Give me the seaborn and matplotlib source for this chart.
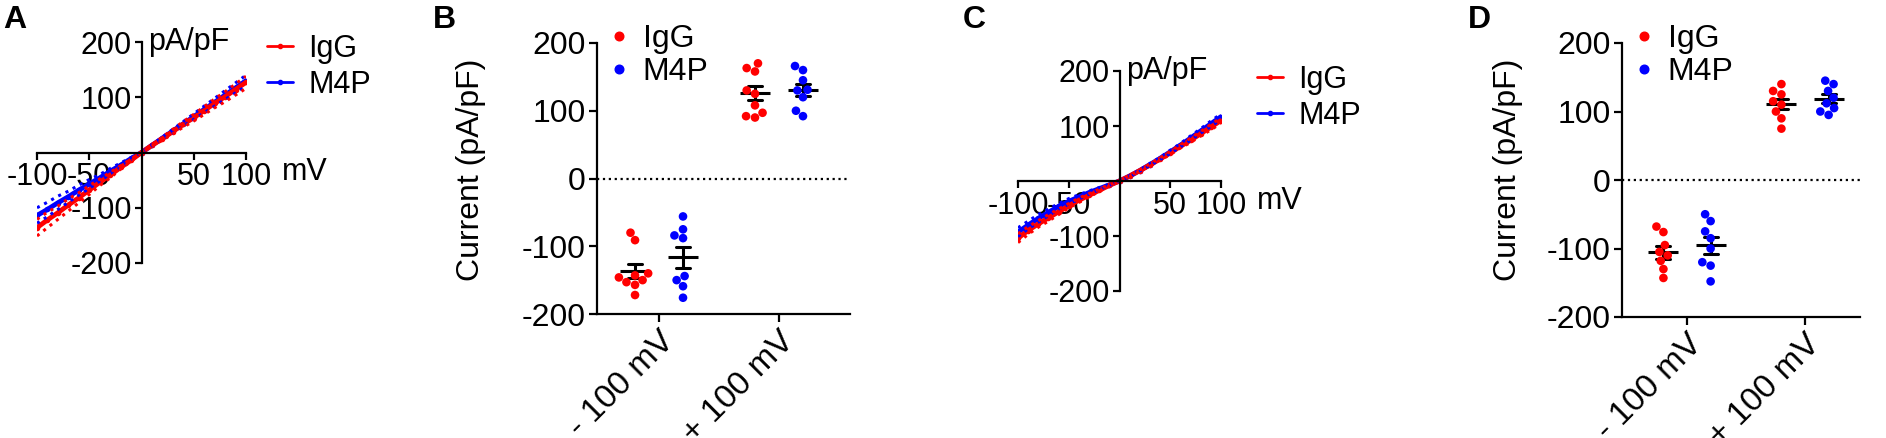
import numpy as np
import pandas as pd
import matplotlib
matplotlib.use('Agg')
import matplotlib.pyplot as plt
import seaborn as sns
from matplotlib.lines import Line2D

sns.set_theme(style="ticks", rc={'axes.edgecolor': 'black', 'xtick.color': 'black',
                                 'ytick.color': 'black', 'text.color': 'black',
                                 'axes.labelcolor': 'black'})
plt.rcParams['font.family'] = ['Liberation Sans', 'DejaVu Sans']
plt.rcParams['axes.unicode_minus'] = False

RED = '#ff0000'
BLUE = '#0000ff'
groups = ['IgG', 'M4P']
conds = ['- 100 mV', '+ 100 mV']

# I-V curves, current density (pA/pF) vs voltage (mV)
voltage = [-100, -90, -80, -70, -60, -50, -40, -30, -20, -10, 0,
           10, 20, 30, 40, 50, 60, 70, 80, 90, 100]

a_igg = [-136, -122, -109, -95, -82, -68, -54, -41, -27, -14, 0, 13, 25, 38, 51, 63, 76, 89, 101, 114, 127]
a_igg_sem = [15, 14, 12, 11, 9, 8, 6, 5, 3, 2, 0, 1, 3, 4, 5, 6, 7, 8, 9, 10, 11]
a_m4p = [-114, -103, -91, -80, -68, -57, -46, -34, -23, -11, 0, 13, 26, 39, 52, 65, 78, 91, 104, 117, 130]
a_m4p_sem = [14, 13, 12, 10, 9, 8, 6, 5, 4, 2, 0, 1, 2, 3, 4, 5, 6, 7, 8, 9, 10]

c_igg = [-104, -90, -78, -67, -56, -45, -35, -26, -17, -8, 0, 9, 19, 29, 40, 51, 63, 74, 86, 98, 110]
c_igg_sem = [8, 7, 6, 6, 5, 4, 4, 3, 2, 1, 0, 1, 1, 2, 2, 3, 3, 4, 4, 5, 5]
c_m4p = [-93, -80, -68, -57, -46, -37, -29, -21, -14, -7, 0, 9, 19, 30, 41, 53, 65, 78, 91, 104, 117]
c_m4p_sem = [8, 7, 7, 6, 5, 5, 4, 3, 2, 1, 0, 1, 1, 2, 2, 3, 3, 4, 4, 5, 5]

# single cells at -100 / +100 mV
b_igg_neg = [-80, -91, -140, -143, -146, -150, -153, -157, -172]
b_igg_pos = [170, 163, 158, 130, 125, 108, 97, 92, 90]
b_m4p_neg = [-56, -75, -84, -88, -144, -150, -159, -176]
b_m4p_pos = [166, 160, 145, 131, 130, 120, 100, 92]

d_igg_neg = [-68, -76, -95, -105, -110, -118, -130, -143]
d_igg_pos = [140, 130, 125, 115, 110, 100, 90, 75]
d_m4p_neg = [-50, -60, -75, -85, -100, -120, -125, -148]
d_m4p_pos = [145, 140, 130, 120, 112, 105, 100, 95]

W, H = 1886, 438
fig = plt.figure(figsize=(W / 100, H / 100), dpi=100)


def px_axes(left, right, top, bottom):
    return fig.add_axes([left / W, 1 - bottom / H, (right - left) / W, (bottom - top) / H])


def iv_panel(ax, igg, igg_sem, m4p, m4p_sem, fs, leg_xy):
    n = len(voltage)
    df = pd.DataFrame({'mV': voltage * 2, 'I': igg + m4p,
                       'group': ['IgG'] * n + ['M4P'] * n})
    sns.lineplot(data=df, x='mV', y='I', hue='group', hue_order=['M4P', 'IgG'],
                 palette={'IgG': RED, 'M4P': BLUE}, marker='o', markersize=4,
                 markeredgewidth=0, linewidth=3.5, errorbar=None, legend=False, ax=ax)
    for mean, sem, col in [(m4p, m4p_sem, BLUE), (igg, igg_sem, RED)]:
        m, s = np.array(mean), np.array(sem)
        ax.plot(voltage, m + s, ls=':', color=col, lw=2.2)
        ax.plot(voltage, m - s, ls=':', color=col, lw=2.2)
    ax.spines['left'].set_position(('data', 0))
    ax.spines['bottom'].set_position(('data', 0))
    sns.despine(ax=ax)
    for sp in ['left', 'bottom']:
        ax.spines[sp].set_linewidth(1.6)
    ax.set_xlim(-100, 100)
    ax.set_ylim(-200, 200)
    ax.set_xticks([-100, -50, 50, 100])
    ax.set_yticks([-200, -100, 100, 200])
    ax.tick_params(direction='out', length=5, width=1.6, pad=2, labelsize=fs)
    ax.set_xlabel('')
    ax.set_ylabel('')
    ax.patch.set_alpha(0)
    ax.annotate('pA/pF', xy=(0, 200), xytext=(7, 0), textcoords='offset pixels',
                ha='left', va='center', fontsize=fs)
    ax.annotate('mV', xy=(100, 0), xytext=(36, -20), textcoords='offset pixels',
                ha='left', va='center', fontsize=fs)
    handles = [Line2D([], [], color=c, lw=2, marker='o', markersize=3) for c in (RED, BLUE)]
    ax.legend(handles, groups, loc='upper left', bbox_to_anchor=(leg_xy[0] / W, 1 - leg_xy[1] / H),
              bbox_transform=fig.transFigure, frameon=False, fontsize=fs, borderpad=0,
              borderaxespad=0, handlelength=0.85, handletextpad=0.5, labelspacing=0.2)


def scatter_panel(ax, igg_neg, igg_pos, m4p_neg, m4p_pos, xlim, fs, leg_xy):
    df = pd.DataFrame({
        'cond': [conds[0]] * len(igg_neg) + [conds[1]] * len(igg_pos)
                + [conds[0]] * len(m4p_neg) + [conds[1]] * len(m4p_pos),
        'current': igg_neg + igg_pos + m4p_neg + m4p_pos,
        'group': ['IgG'] * (len(igg_neg) + len(igg_pos)) + ['M4P'] * (len(m4p_neg) + len(m4p_pos)),
    })
    ax.axhline(0, ls=':', color='black', lw=1.6, zorder=0)
    sns.swarmplot(data=df, x='cond', y='current', hue='group', order=conds, hue_order=groups,
                  palette={'IgG': RED, 'M4P': BLUE}, dodge=True, size=6.2, legend=False, ax=ax)
    sns.pointplot(data=df, x='cond', y='current', hue='group', order=conds, hue_order=groups,
                  palette={'IgG': 'black', 'M4P': 'black'}, dodge=0.4, errorbar='se',
                  capsize=0.12, markers='_', markersize=22, markeredgewidth=2.2,
                  linestyle='none', err_kws={'linewidth': 2.2}, legend=False, ax=ax)
    sns.despine(ax=ax)
    for sp in ['left', 'bottom']:
        ax.spines[sp].set_linewidth(1.6)
    ax.set_xlim(*xlim)
    ax.set_ylim(-200, 200)
    ax.set_yticks([-200, -100, 0, 100, 200])
    ax.tick_params(direction='out', length=6, width=1.6, pad=2, labelsize=fs)
    for lab in ax.get_xticklabels():
        lab.set_rotation(45)
        lab.set_ha('right')
        lab.set_rotation_mode('anchor')
        lab.set_fontsize(24)
    ax.set_xlabel('')
    ax.set_ylabel('')
    handles = [Line2D([], [], color=c, lw=0, marker='o', markersize=6.2) for c in (RED, BLUE)]
    ax.legend(handles, groups, loc='upper left', bbox_to_anchor=(leg_xy[0] / W, 1 - leg_xy[1] / H),
              bbox_transform=fig.transFigure, frameon=False, fontsize=fs, borderpad=0,
              borderaxespad=0, handlelength=0.8, handletextpad=0.35, labelspacing=0.1)


ax_a = px_axes(37, 246, 42, 263)
iv_panel(ax_a, a_igg, a_igg_sem, a_m4p, a_m4p_sem, 22, (267, 34))

ax_c = px_axes(1018, 1221, 71, 291)
iv_panel(ax_c, c_igg, c_igg_sem, c_m4p, c_m4p_sem, 22, (1257, 65))

ax_b = px_axes(597, 850, 43, 314)
scatter_panel(ax_b, b_igg_neg, b_igg_pos, b_m4p_neg, b_m4p_pos, (-0.517, 1.592), 23, (606, 24))

ax_d = px_axes(1622, 1860, 43, 317)
scatter_panel(ax_d, d_igg_neg, d_igg_pos, d_m4p_neg, d_m4p_pos, (-0.551, 1.466), 23, (1631, 24))

for x_px, yl_px in [(471, 170), (1508, 170)]:
    fig.text(x_px / W, 1 - yl_px / H, 'Current (pA/pF)', rotation=90, ha='center',
             va='center', fontsize=23)

for letter, x_px in [('A', 3), ('B', 433), ('C', 963), ('D', 1468)]:
    fig.text(x_px / W, 1 - 5 / H, letter, ha='left', va='top', fontsize=23, fontweight='bold')

fig.savefig('out.png', dpi=100)
